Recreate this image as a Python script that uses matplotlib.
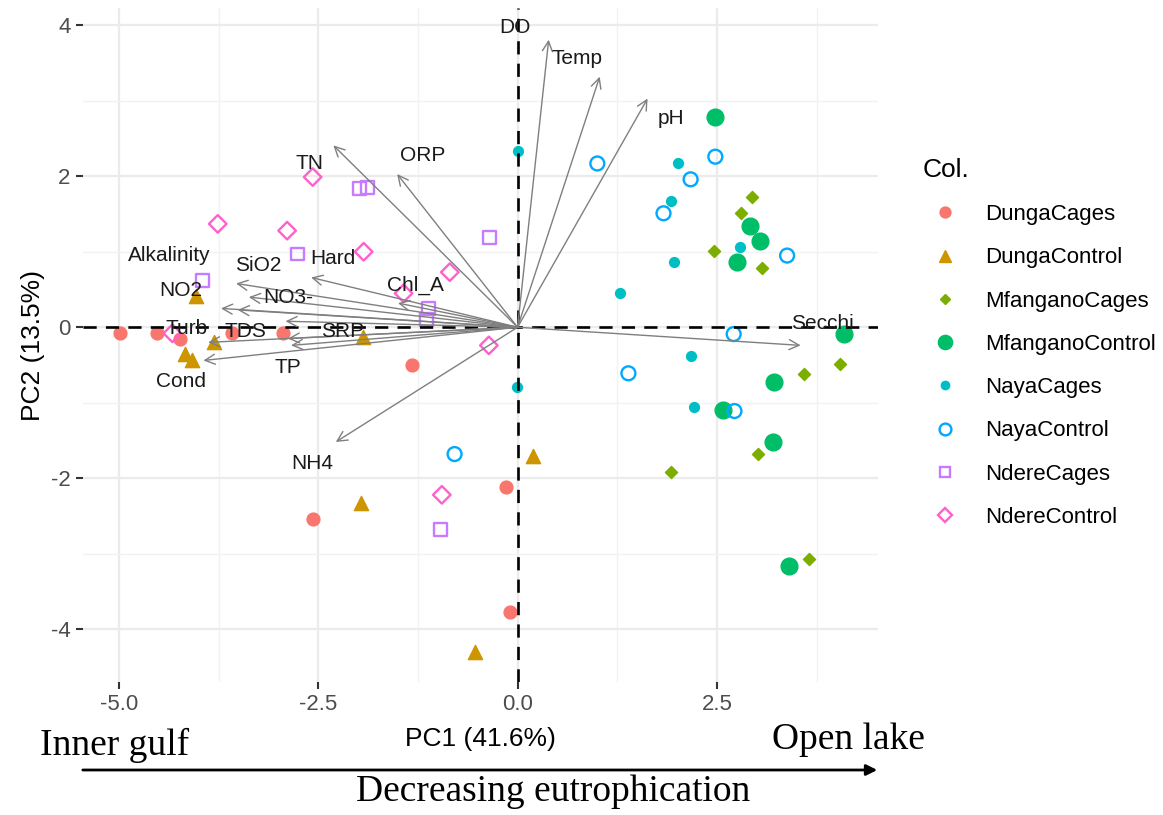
import matplotlib
matplotlib.use("Agg")
import matplotlib.pyplot as plt
from matplotlib.lines import Line2D

plt.rcParams['font.family'] = ['Liberation Sans', 'DejaVu Sans']

# PCA scores per site / treatment
dunga_cages_x = [-4.99, -4.52, -4.23, -3.58, -2.94, -1.32, -0.15, -2.57, -0.10]
dunga_cages_y = [-0.07, -0.07, -0.15, -0.07, -0.07, -0.50, -2.12, -2.54, -3.77]
dunga_ctrl_x = [-4.03, -3.81, -4.17, -4.08, -1.94, -1.96, 0.19, -0.54]
dunga_ctrl_y = [0.41, -0.19, -0.35, -0.44, -0.13, -2.33, -1.71, -4.30]
mfa_cages_x = [2.94, 2.80, 2.46, 3.06, 3.59, 4.04, 3.02, 1.93, 3.66]
mfa_cages_y = [1.72, 1.52, 1.01, 0.78, -0.62, -0.49, -1.68, -1.92, -3.07]
mfa_ctrl_x = [2.47, 2.91, 3.04, 2.75, 4.09, 3.21, 2.57, 3.20, 3.41]
mfa_ctrl_y = [2.78, 1.34, 1.14, 0.86, -0.09, -0.72, -1.10, -1.52, -3.16]
naya_cages_x = [0.00, 2.01, 1.92, 2.79, 1.96, 1.29, 2.18, 2.21, -0.01]
naya_cages_y = [2.34, 2.17, 1.67, 1.06, 0.86, 0.46, -0.38, -1.06, -0.79]
naya_ctrl_x = [1.00, 2.48, 2.17, 1.83, 3.38, 2.71, 1.39, 2.72, -0.79]
naya_ctrl_y = [2.17, 2.26, 1.96, 1.51, 0.95, -0.09, -0.61, -1.11, -1.68]
ndere_cages_x = [-2.76, -3.95, -1.98, -1.88, -0.35, -1.12, -1.14, -0.97]
ndere_cages_y = [0.97, 0.62, 1.84, 1.85, 1.19, 0.25, 0.10, -2.68]
ndere_ctrl_x = [-3.76, -2.89, -1.93, -4.33, -2.57, -0.85, -1.43, -0.36, -0.95]
ndere_ctrl_y = [1.37, 1.28, 1.00, -0.08, 1.99, 0.73, 0.45, -0.24, -2.22]

# variable loadings (arrow tips) and where their names sit
variables = ["DO", "Temp", "pH", "TN", "ORP", "Alkalinity", "SiO2", "Hard", "NO2",
             "NO3-", "Chl_A", "Turb", "TDS", "SRP", "Secchi", "TP", "Cond", "NH4"]
load_x = [0.39, 1.03, 1.63, -2.31, -1.51, -3.53, -3.37, -2.59, -3.72,
          -3.51, -1.50, -3.88, -2.91, -2.88, 3.55, -2.84, -3.94, -2.28]
load_y = [3.81, 3.32, 3.03, 2.41, 2.03, 0.58, 0.40, 0.66, 0.25,
          0.23, 0.32, -0.20, 0.08, -0.15, -0.24, -0.24, -0.44, -1.52]
lab_x = [-0.03, 0.75, 1.92, -2.61, -1.19, -4.37, -3.25, -2.32, -4.22,
         -2.88, -1.28, -4.15, -3.41, -2.19, 3.82, -2.88, -4.22, -2.57]
lab_y = [3.97, 3.56, 2.77, 2.17, 2.28, 0.95, 0.82, 0.91, 0.49,
         0.40, 0.56, -0.01, -0.05, -0.05, 0.05, -0.53, -0.72, -1.80]

fig = plt.figure(figsize=(11.63, 8.15), dpi=100)
ax = fig.add_axes([83 / 1163, 1 - 682 / 815, 795 / 1163, 674 / 815])

groups = [
    ("DungaCages", dunga_cages_x, dunga_cages_y, dict(marker='o', s=85, c='#F8766D')),
    ("DungaControl", dunga_ctrl_x, dunga_ctrl_y, dict(marker='^', s=105, c='#CD9600')),
    ("MfanganoCages", mfa_cages_x, mfa_cages_y, dict(marker='D', s=38, c='#7CAE00')),
    ("MfanganoControl", mfa_ctrl_x, mfa_ctrl_y, dict(marker='o', s=145, c='#00BE67')),
    ("NayaCages", naya_cages_x, naya_cages_y, dict(marker='o', s=50, c='#00BFC4')),
    ("NayaControl", naya_ctrl_x, naya_ctrl_y,
     dict(marker='o', s=100, facecolors='none', edgecolors='#00A9FF', linewidths=1.7)),
    ("NdereCages", ndere_cages_x, ndere_cages_y,
     dict(marker='s', s=85, facecolors='none', edgecolors='#C77CFF', linewidths=1.7)),
    ("NdereControl", ndere_ctrl_x, ndere_ctrl_y,
     dict(marker='D', s=80, facecolors='none', edgecolors='#FF61CC', linewidths=1.7)),
]
handles = []
for name, xs, ys, kw in groups:
    ax.scatter(xs, ys, zorder=3, **kw)
    fc = kw.get('c', 'none')
    ec = kw.get('c', kw.get('edgecolors'))
    ms = (kw['s'] ** 0.5) * 0.85
    handles.append(Line2D([], [], ls='none', marker=kw['marker'], markersize=ms,
                          markerfacecolor=fc, markeredgecolor=ec,
                          markeredgewidth=kw.get('linewidths', 1.0), label=name))

ax.axhline(0, color='black', ls=(0, (5, 3.5)), lw=1.9, zorder=4)
ax.axvline(0, color='black', ls=(0, (5, 3.5)), lw=1.9, zorder=4)

for vx, vy in zip(load_x, load_y):
    ax.annotate("", xy=(vx, vy), xytext=(0, 0), zorder=5,
                arrowprops=dict(arrowstyle='->', color='#7F7F7F', lw=1.0,
                                mutation_scale=18, shrinkA=0, shrinkB=0))
for name, tx, ty in zip(variables, lab_x, lab_y):
    ax.text(tx, ty, name, fontsize=15, ha='center', va='center',
            color='#1A1A1A', zorder=6)

ax.set_xlim(-5.45, 4.52)
ax.set_ylim(-4.70, 4.23)
ax.set_xticks([-5.0, -2.5, 0.0, 2.5])
ax.set_xticklabels(['-5.0', '-2.5', '0.0', '2.5'])
ax.set_xticks([-3.75, -1.25, 1.25, 3.75], minor=True)
ax.set_yticks([-4, -2, 0, 2, 4])
ax.set_yticklabels(['-4', '-2', '0', '2', '4'])
ax.set_yticks([-3, -1, 1, 3], minor=True)
ax.grid(which='major', color='#EBEBEB', lw=1.6)
ax.grid(which='minor', color='#F2F2F2', lw=1.0)
ax.set_axisbelow(True)
for sp in ax.spines.values():
    sp.set_visible(False)
ax.tick_params(which='major', length=5, width=1.5, color='#333333',
               labelsize=16, labelcolor='#4D4D4D', pad=4)
ax.tick_params(which='minor', length=0)
ax.set_xlabel("PC1 (41.6%)", fontsize=19, labelpad=8)
ax.set_ylabel("PC2 (13.5%)", fontsize=19, labelpad=4)

fig.legend(handles=handles, title="Col.", loc='upper left',
           bbox_to_anchor=(903 / 1163, 1 - 138 / 815), frameon=False,
           fontsize=16, title_fontsize=19, labelspacing=1.0,
           handletextpad=0.8, alignment='left')

# gradient annotation under the x axis
fig.text(40 / 1163, 1 - 745 / 815, "Inner gulf", family='Liberation Serif',
         fontsize=27, va='center', ha='left')
fig.text(925 / 1163, 1 - 740 / 815, "Open lake", family='Liberation Serif',
         fontsize=27, va='center', ha='right')
fig.text(553 / 1163, 1 - 792 / 815, "Decreasing eutrophication",
         family='Liberation Serif', fontsize=27, va='center', ha='center')
fig.add_artist(matplotlib.patches.FancyArrowPatch(
    (80 / 1163, 1 - 770 / 815), (880 / 1163, 1 - 770 / 815),
    transform=fig.transFigure, arrowstyle='-|>', mutation_scale=16,
    color='black', lw=2.0))

fig.savefig("out.png", dpi=100)
